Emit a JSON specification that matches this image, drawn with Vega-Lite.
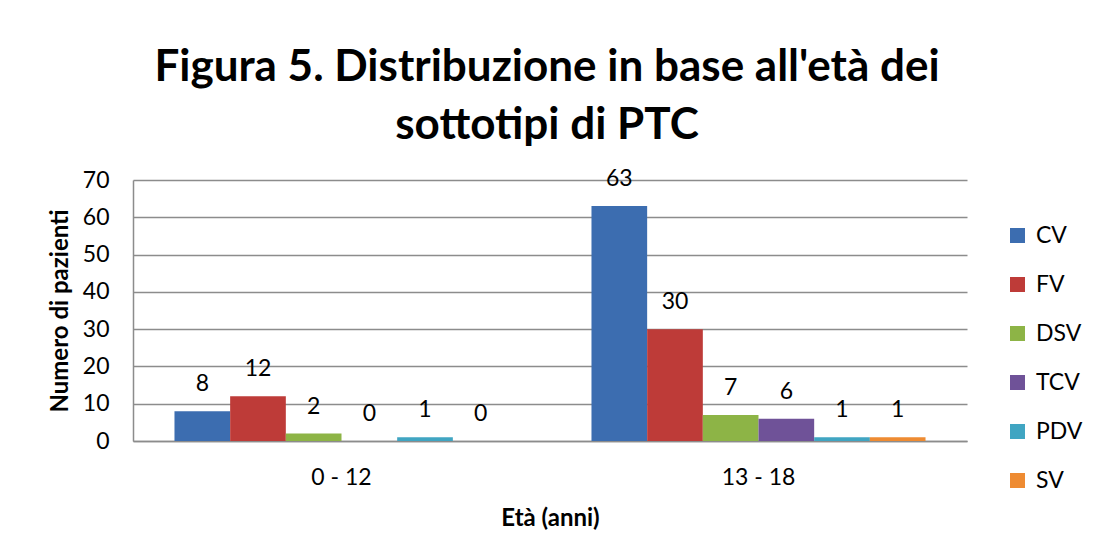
{
  "$schema": "https://vega.github.io/schema/vega-lite/v6.json",
  "width": 834,
  "height": 261,
  "autosize": "none",
  "padding": {"left": 133, "top": 180, "right": 127, "bottom": 119},
  "background": "white",
  "title": {
    "text": ["Figura 5. Distribuzione in base all'età dei", "sottotipi di PTC"],
    "font": "Lato",
    "fontSize": 44,
    "fontWeight": "bold",
    "color": "black",
    "anchor": "middle",
    "frame": "group",
    "lineHeight": 58,
    "offset": 20,
    "dx": -3
  },
  "config": {
    "view": {"stroke": null},
    "font": "Lato"
  },
  "data": {
    "values": [
      {"eta": "0 - 12", "sottotipo": "CV", "n": 8},
      {"eta": "0 - 12", "sottotipo": "FV", "n": 12},
      {"eta": "0 - 12", "sottotipo": "DSV", "n": 2},
      {"eta": "0 - 12", "sottotipo": "TCV", "n": 0},
      {"eta": "0 - 12", "sottotipo": "PDV", "n": 1},
      {"eta": "0 - 12", "sottotipo": "SV", "n": 0},
      {"eta": "13 - 18", "sottotipo": "CV", "n": 63},
      {"eta": "13 - 18", "sottotipo": "FV", "n": 30},
      {"eta": "13 - 18", "sottotipo": "DSV", "n": 7},
      {"eta": "13 - 18", "sottotipo": "TCV", "n": 6},
      {"eta": "13 - 18", "sottotipo": "PDV", "n": 1},
      {"eta": "13 - 18", "sottotipo": "SV", "n": 1}
    ]
  },
  "encoding": {
    "x": {
      "field": "eta",
      "type": "nominal",
      "sort": ["0 - 12", "13 - 18"],
      "scale": {"paddingInner": 0, "paddingOuter": 0},
      "title": "Età (anni)",
      "axis": {
        "labelAngle": 0,
        "labelFont": "Lato",
        "labelFontSize": 23,
        "labelColor": "black",
        "labelPadding": 25,
        "ticks": false,
        "domainColor": "#8c8c8c",
        "domainWidth": 1.5,
        "titleFont": "Lato",
        "titleFontSize": 24,
        "titleFontWeight": "bold",
        "titleColor": "black",
        "titlePadding": 17
      }
    },
    "xOffset": {
      "field": "sottotipo",
      "sort": ["CV", "FV", "DSV", "TCV", "PDV", "SV"],
      "scale": {"paddingInner": 0, "paddingOuter": 0.745}
    },
    "y": {
      "field": "n",
      "type": "quantitative",
      "scale": {"domain": [0, 70], "nice": false},
      "title": "Numero di pazienti",
      "axis": {
        "values": [0, 10, 20, 30, 40, 50, 60, 70],
        "labelFont": "Lato",
        "labelFontSize": 23,
        "labelColor": "black",
        "labelPadding": 24,
        "ticks": false,
        "domainColor": "#8c8c8c",
        "domainWidth": 1.5,
        "gridColor": "#8c8c8c",
        "gridWidth": 1.5,
        "titleFont": "Lato",
        "titleFontSize": 24,
        "titleFontWeight": "bold",
        "titleColor": "black",
        "titlePadding": 10
      }
    }
  },
  "layer": [
    {
      "mark": {"type": "bar"},
      "encoding": {
        "color": {
          "field": "sottotipo",
          "type": "nominal",
          "sort": ["CV", "FV", "DSV", "TCV", "PDV", "SV"],
          "scale": {
            "domain": ["CV", "FV", "DSV", "TCV", "PDV", "SV"],
            "range": ["#3C6DB0", "#BE3B38", "#8DB446", "#6F5298", "#40A5C2", "#EE8B32"]
          },
          "legend": {
            "title": null,
            "orient": "none",
            "legendX": 873,
            "legendY": 44,
            "symbolType": "square",
            "symbolSize": 225,
            "symbolStrokeWidth": 0,
            "labelFont": "Lato",
            "labelFontSize": 23,
            "labelColor": "black",
            "labelOffset": 7,
            "rowPadding": 25
          }
        }
      }
    },
    {
      "mark": {"type": "text", "baseline": "middle", "dy": -27, "font": "Lato", "fontSize": 23, "color": "black"},
      "encoding": {"text": {"field": "n", "type": "quantitative"}}
    }
  ]
}
